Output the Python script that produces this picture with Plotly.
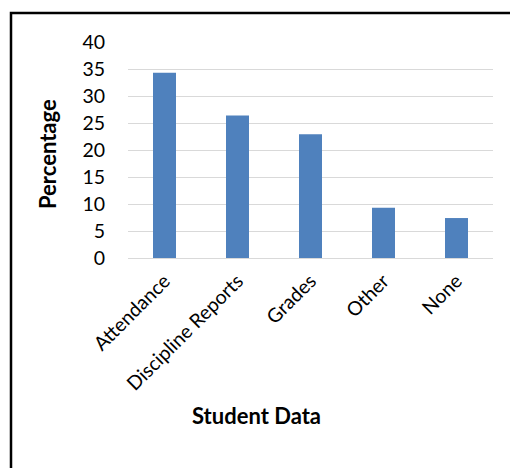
import plotly.graph_objects as go

categories = ["Attendance", "Discipline Reports", "Grades", "Other", "None"]
values = [34.3, 26.4, 22.9, 9.3, 7.4]
y_ticks = [0, 5, 10, 15, 20, 25, 30, 35, 40]

FONT = "Lato, Carlito, Calibri, sans-serif"

L, R, T, B = 128, 17, 42, 210
W, H = 510, 468
pw, ph = W - L - R, H - T - B

def px(x):
    return (x - L) / pw

def py(y):
    return (H - B - y) / ph

fig = go.Figure(go.Bar(
    x=categories, y=values,
    marker=dict(color="#4f81bd", line=dict(width=0)),
    width=0.315,
))

fig.update_layout(
    width=W, height=H,
    margin=dict(l=L, r=R, t=T, b=B),
    paper_bgcolor="white", plot_bgcolor="white",
    showlegend=False,
    font=dict(family=FONT, color="black"),
    xaxis=dict(
        tickangle=-45, tickfont=dict(size=19.5, family=FONT, color="black"),
        showgrid=False, showline=True, linecolor="#d9d9d9", linewidth=1,
        ticks="", ticklen=0, ticklabelstandoff=3,
    ),
    yaxis=dict(
        range=[0, 40], tickvals=y_ticks,
        tickfont=dict(size=19.5, family=FONT, color="black"),
        showgrid=True, gridcolor="#d9d9d9", gridwidth=1,
        zeroline=False, showline=False, ticks="", ticklabelstandoff=22,
    ),
    shapes=[dict(
        type="rect", xref="paper", yref="paper",
        x0=px(11), x1=px(530), y0=py(490), y1=py(13),
        line=dict(color="black", width=2.5), fillcolor="rgba(0,0,0,0)",
        layer="above",
    )],
    annotations=[
        dict(text="<b>Percentage</b>", xref="paper", yref="paper",
             x=px(47), y=py(154), textangle=-90, showarrow=False,
             font=dict(size=22, family=FONT, color="black"),
             xanchor="center", yanchor="middle"),
        dict(text="<b>Student Data</b>", xref="paper", yref="paper",
             x=px(256), y=py(415), showarrow=False,
             font=dict(size=22, family=FONT, color="black"),
             xanchor="center", yanchor="middle"),
    ],
)

fig.write_html("out.html")
